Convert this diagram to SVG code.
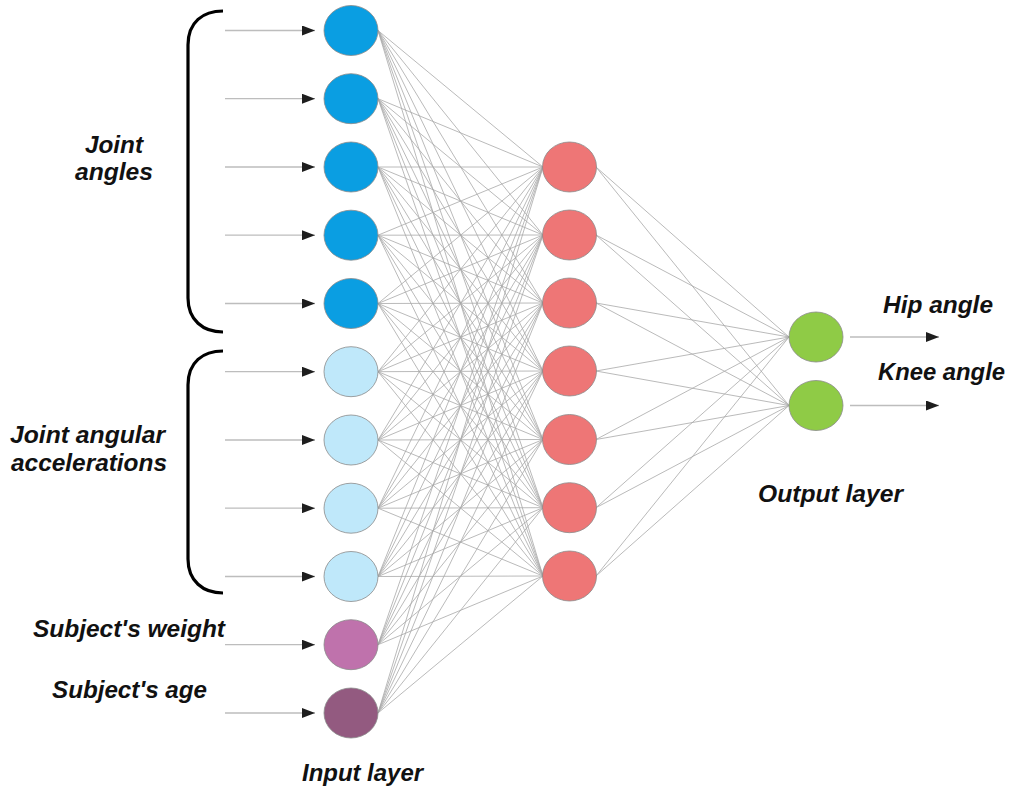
<svg xmlns="http://www.w3.org/2000/svg" width="1010" height="787" viewBox="0 0 1010 787">
<defs>
<marker id="arr" viewBox="0 0 13 10" refX="13" refY="5" markerWidth="13" markerHeight="10" markerUnits="userSpaceOnUse" orient="auto">
<path d="M0 0L13 5L0 10z" fill="#1e1e1e"/>
</marker>
</defs>
<style>
.lbl{font-family:"Liberation Sans",Arial,sans-serif;font-weight:bold;font-style:italic;font-size:24px;fill:#111}
.arrow{stroke:#bdbdbd;stroke-width:1.3;fill:none;marker-end:url(#arr)}
.conn{stroke:#a8a8a8;stroke-width:0.8;fill:none}
.node{stroke:#8a8a8a;stroke-width:0.8}
.brace{stroke:#000;stroke-width:3.2;fill:none;stroke-linecap:butt}
.n-blue{fill:#0a9ee2}
.n-lblue{fill:#bfe8fa}
.n-purple{fill:#bf72ac}
.n-dpurple{fill:#935a80}
.n-red{fill:#ee7676}
.n-green{fill:#8fcb46}
</style>
<rect width="1010" height="787" fill="#fff"/>

<g id="connectors">
<path class="conn" d="M378 30.5L543 167M378 30.5L543 235M378 30.5L543 303M378 30.5L543 371M378 30.5L543 439.5M378 30.5L543 507.7M378 30.5L543 576"/>
<path class="conn" d="M378 98.7L543 167M378 98.7L543 235M378 98.7L543 303M378 98.7L543 371M378 98.7L543 439.5M378 98.7L543 507.7M378 98.7L543 576"/>
<path class="conn" d="M378 167L543 167M378 167L543 235M378 167L543 303M378 167L543 371M378 167L543 439.5M378 167L543 507.7M378 167L543 576"/>
<path class="conn" d="M378 235.2L543 167M378 235.2L543 235M378 235.2L543 303M378 235.2L543 371M378 235.2L543 439.5M378 235.2L543 507.7M378 235.2L543 576"/>
<path class="conn" d="M378 303.5L543 167M378 303.5L543 235M378 303.5L543 303M378 303.5L543 371M378 303.5L543 439.5M378 303.5L543 507.7M378 303.5L543 576"/>
<path class="conn" d="M378 371.7L543 167M378 371.7L543 235M378 371.7L543 303M378 371.7L543 371M378 371.7L543 439.5M378 371.7L543 507.7M378 371.7L543 576"/>
<path class="conn" d="M378 440L543 167M378 440L543 235M378 440L543 303M378 440L543 371M378 440L543 439.5M378 440L543 507.7M378 440L543 576"/>
<path class="conn" d="M378 508.2L543 167M378 508.2L543 235M378 508.2L543 303M378 508.2L543 371M378 508.2L543 439.5M378 508.2L543 507.7M378 508.2L543 576"/>
<path class="conn" d="M378 576.5L543 167M378 576.5L543 235M378 576.5L543 303M378 576.5L543 371M378 576.5L543 439.5M378 576.5L543 507.7M378 576.5L543 576"/>
<path class="conn" d="M378 644.7L543 167M378 644.7L543 235M378 644.7L543 303M378 644.7L543 371M378 644.7L543 439.5M378 644.7L543 507.7M378 644.7L543 576"/>
<path class="conn" d="M378 713L543 167M378 713L543 235M378 713L543 303M378 713L543 371M378 713L543 439.5M378 713L543 507.7M378 713L543 576"/>
<path class="conn" d="M596 167L789 337M596 167L789 405.5M596 235L789 337M596 235L789 405.5M596 303L789 337M596 303L789 405.5M596 371L789 337M596 371L789 405.5M596 439.5L789 337M596 439.5L789 405.5M596 507.7L789 337M596 507.7L789 405.5M596 576L789 337M596 576L789 405.5"/>
<line class="arrow" x1="225" y1="30.5" x2="315" y2="30.5"/>
<line class="arrow" x1="225" y1="98.7" x2="315" y2="98.7"/>
<line class="arrow" x1="225" y1="167" x2="315" y2="167"/>
<line class="arrow" x1="225" y1="235.2" x2="315" y2="235.2"/>
<line class="arrow" x1="225" y1="303.5" x2="315" y2="303.5"/>
<line class="arrow" x1="225" y1="371.7" x2="315" y2="371.7"/>
<line class="arrow" x1="225" y1="440" x2="315" y2="440"/>
<line class="arrow" x1="225" y1="508.2" x2="315" y2="508.2"/>
<line class="arrow" x1="225" y1="576.5" x2="315" y2="576.5"/>
<line class="arrow" x1="225" y1="644.7" x2="315" y2="644.7"/>
<line class="arrow" x1="225" y1="713" x2="315" y2="713"/>
<line class="arrow" x1="850" y1="337" x2="939" y2="337"/>
<line class="arrow" x1="850" y1="405.5" x2="939" y2="405.5"/>
</g>

<g id="braces">
<path class="brace" d="M223 11C203 11 188 22 188 45L188 298C188 320 203 332 223 332"/>
<path class="brace" d="M223 351C203 351 188 362 188 385L188 559C188 581 203 593 223 593"/>
</g>

<g id="input-layer">
<g id="in1"><ellipse class="node n-blue" cx="351" cy="30.5" rx="27" ry="25"/></g>
<g id="in2"><ellipse class="node n-blue" cx="351" cy="98.7" rx="27" ry="25"/></g>
<g id="in3"><ellipse class="node n-blue" cx="351" cy="167" rx="27" ry="25"/></g>
<g id="in4"><ellipse class="node n-blue" cx="351" cy="235.2" rx="27" ry="25"/></g>
<g id="in5"><ellipse class="node n-blue" cx="351" cy="303.5" rx="27" ry="25"/></g>
<g id="in6"><ellipse class="node n-lblue" cx="351" cy="371.7" rx="27" ry="25"/></g>
<g id="in7"><ellipse class="node n-lblue" cx="351" cy="440" rx="27" ry="25"/></g>
<g id="in8"><ellipse class="node n-lblue" cx="351" cy="508.2" rx="27" ry="25"/></g>
<g id="in9"><ellipse class="node n-lblue" cx="351" cy="576.5" rx="27" ry="25"/></g>
<g id="in10"><ellipse class="node n-purple" cx="351" cy="644.7" rx="27" ry="25"/></g>
<g id="in11"><ellipse class="node n-dpurple" cx="351" cy="713" rx="27" ry="25"/></g>
</g>

<g id="hidden-layer">
<g id="h1"><ellipse class="node n-red" cx="569.5" cy="167" rx="27" ry="25"/></g>
<g id="h2"><ellipse class="node n-red" cx="569.5" cy="235" rx="27" ry="25"/></g>
<g id="h3"><ellipse class="node n-red" cx="569.5" cy="303" rx="27" ry="25"/></g>
<g id="h4"><ellipse class="node n-red" cx="569.5" cy="371" rx="27" ry="25"/></g>
<g id="h5"><ellipse class="node n-red" cx="569.5" cy="439.5" rx="27" ry="25"/></g>
<g id="h6"><ellipse class="node n-red" cx="569.5" cy="507.7" rx="27" ry="25"/></g>
<g id="h7"><ellipse class="node n-red" cx="569.5" cy="576" rx="27" ry="25"/></g>
</g>

<g id="output-layer">
<g id="o1"><ellipse class="node n-green" cx="816" cy="337" rx="27" ry="25"/></g>
<g id="o2"><ellipse class="node n-green" cx="816" cy="405.5" rx="27" ry="25"/></g>
</g>

<g id="labels">
<text class="lbl" x="85" y="153" textLength="58" lengthAdjust="spacingAndGlyphs">Joint</text>
<text class="lbl" x="75" y="180" textLength="78" lengthAdjust="spacingAndGlyphs">angles</text>
<text class="lbl" x="10" y="443" textLength="155" lengthAdjust="spacingAndGlyphs">Joint angular</text>
<text class="lbl" x="11" y="471" textLength="156" lengthAdjust="spacingAndGlyphs">accelerations</text>
<text class="lbl" x="33" y="637" textLength="192" lengthAdjust="spacingAndGlyphs">Subject's weight</text>
<text class="lbl" x="52" y="698" textLength="155" lengthAdjust="spacingAndGlyphs">Subject's age</text>
<text class="lbl" x="883" y="313" textLength="110" lengthAdjust="spacingAndGlyphs">Hip angle</text>
<text class="lbl" x="878" y="380" textLength="127" lengthAdjust="spacingAndGlyphs">Knee angle</text>
<text class="lbl" x="758" y="502" textLength="145" lengthAdjust="spacingAndGlyphs">Output layer</text>
<text class="lbl" x="302" y="781" textLength="121" lengthAdjust="spacingAndGlyphs">Input layer</text>
</g>
</svg>
